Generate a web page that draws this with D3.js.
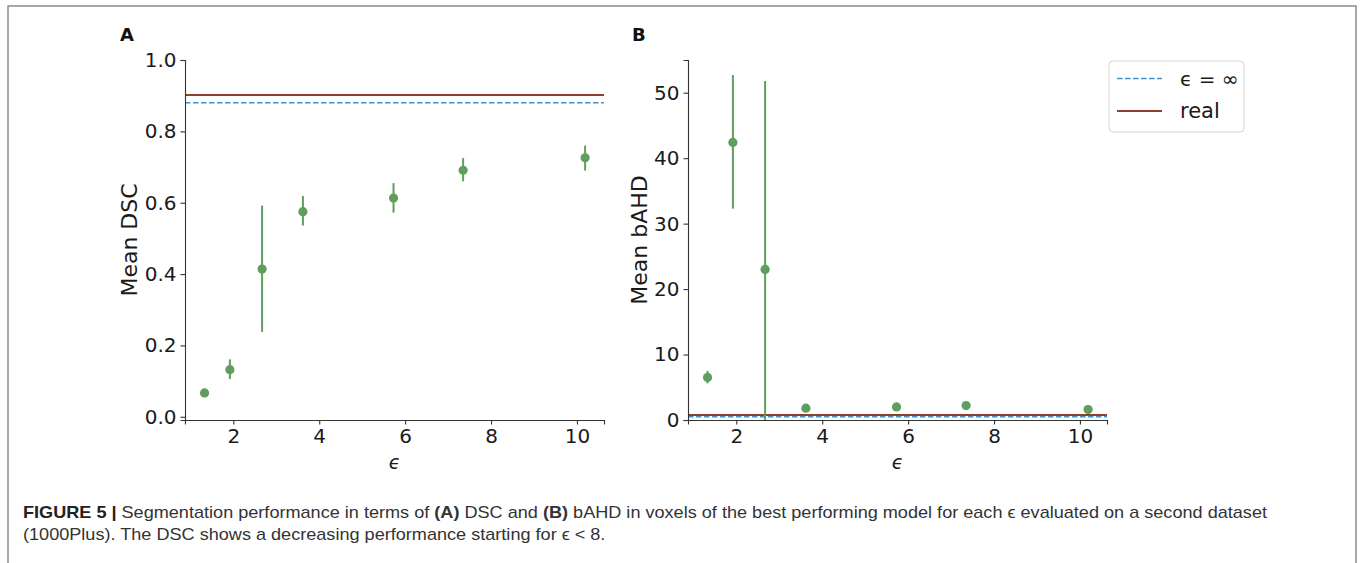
<!DOCTYPE html>
<html>
<head>
<meta charset="utf-8">
<script src="https://cdn.jsdelivr.net/npm/d3@7"></script>
<style>
  html, body { margin: 0; padding: 0; background: #fff; }
  svg { display: block; }
</style>
</head>
<body>
<div id="chart"></div>
<script>
// values
const epsilons = [1.33, 1.92, 2.67, 3.62, 5.73, 7.35, 10.19];
const dscMean = [0.067, 0.132, 0.414, 0.575, 0.613, 0.691, 0.726];
const dscLow  = [0.061, 0.106, 0.238, 0.536, 0.572, 0.660, 0.690];
const dscHigh = [0.073, 0.161, 0.592, 0.619, 0.655, 0.725, 0.760];
const bahdMean = [6.5, 42.4, 23.0, 1.8, 2.0, 2.2, 1.6];
const bahdLow  = [5.6, 32.3, -5.8, 1.5, 1.7, 1.6, 1.0];
const bahdHigh = [7.5, 52.7, 51.8, 2.1, 2.3, 2.8, 2.2];
const dscRef = { inf: 0.880, real: 0.902 };
const bahdRef = { inf: 0.5, real: 0.75 };
const xTicks = [2, 4, 6, 8, 10];
const dscTicks = [0.0, 0.2, 0.4, 0.6, 0.8, 1.0];
const bahdTicks = [0, 10, 20, 30, 40, 50];
const legendLabels = ["\u03F5 = \u221E", "real"];

const W = 1360, H = 563;
const green = "#5f9e5c", brown = "#8e3f2d", blue = "#3d95d3";
const font = "DejaVu Sans, sans-serif";

const svg = d3.select("#chart").append("svg")
  .attr("width", W).attr("height", H);

// figure frame
svg.append("rect")
  .attr("x", 8).attr("y", 6).attr("width", 1348).attr("height", 600)
  .attr("fill", "none").attr("stroke", "#7a7a7a").attr("stroke-width", 1.3);

function panel(opts) {
  const x = d3.scaleLinear().domain([0.875, 10.63]).range(opts.xr);
  const y = d3.scaleLinear().domain(opts.yd).range([420, 60]);
  const g = svg.append("g");

  const clipId = "clip-" + opts.letter;
  g.append("clipPath").attr("id", clipId).append("rect")
    .attr("x", opts.xr[0]).attr("y", 60)
    .attr("width", opts.xr[1] - opts.xr[0]).attr("height", 360);

  const plot = g.append("g").attr("clip-path", `url(#${clipId})`);

  // reference lines
  plot.append("line")
    .attr("x1", opts.xr[0]).attr("x2", opts.xr[1])
    .attr("y1", y(opts.ref.inf)).attr("y2", y(opts.ref.inf))
    .attr("stroke", blue).attr("stroke-width", 1.6)
    .attr("stroke-dasharray", "5.5,2.5");
  plot.append("line")
    .attr("x1", opts.xr[0]).attr("x2", opts.xr[1])
    .attr("y1", y(opts.ref.real)).attr("y2", y(opts.ref.real))
    .attr("stroke", brown).attr("stroke-width", 2);

  // error bars
  plot.selectAll(".err").data(epsilons).enter().append("line")
    .attr("x1", d => x(d)).attr("x2", d => x(d))
    .attr("y1", (d, i) => y(opts.low[i])).attr("y2", (d, i) => y(opts.high[i]))
    .attr("stroke", green).attr("stroke-width", 2);
  plot.selectAll(".dot").data(epsilons).enter().append("circle")
    .attr("cx", d => x(d)).attr("cy", (d, i) => y(opts.mean[i]))
    .attr("r", 4.6).attr("fill", green);

  // axes
  const ax = g.append("g").attr("transform", "translate(0,420)")
    .call(d3.axisBottom(x).tickValues(xTicks).tickSizeOuter(0).tickSize(4.5).tickPadding(4));
  const ay = g.append("g").attr("transform", `translate(${opts.xr[0]},0)`)
    .call(d3.axisLeft(y).tickValues(opts.yTicks).tickSizeOuter(0).tickSize(4.5).tickPadding(4)
      .tickFormat(opts.fmt));
  [ax, ay].forEach(a => {
    a.selectAll("path, line").attr("stroke", "#333").attr("stroke-width", 1.1);
    a.selectAll("text").attr("font-family", font).attr("font-size", 20).attr("fill", "#1a1a1a");
  });

  // labels
  g.append("text")
    .attr("transform", `translate(${opts.ylabX},240) rotate(-90)`)
    .attr("text-anchor", "middle").attr("dominant-baseline", "central")
    .attr("font-family", font).attr("font-size", 22).attr("fill", "#1a1a1a")
    .text(opts.ylabel);
  g.append("text")
    .attr("x", (opts.xr[0] + opts.xr[1]) / 2).attr("y", 469)
    .attr("text-anchor", "middle")
    .attr("font-family", font).attr("font-size", 19).attr("font-style", "italic").attr("fill", "#1a1a1a")
    .text("\u03F5");
  g.append("text")
    .attr("x", opts.letterX).attr("y", 41)
    .attr("font-family", font).attr("font-size", 18).attr("font-weight", "bold").attr("fill", "#111")
    .text(opts.letter);
  return g;
}

panel({
  letter: "A", letterX: 120, xr: [185, 604], yd: [-0.009, 1.0],
  yTicks: dscTicks, fmt: d3.format(".1f"),
  mean: dscMean, low: dscLow, high: dscHigh, ref: dscRef,
  ylabel: "Mean DSC", ylabX: 129
});
panel({
  letter: "B", letterX: 632, xr: [688, 1107], yd: [0, 55],
  yTicks: bahdTicks, fmt: d3.format("d"),
  mean: bahdMean, low: bahdLow, high: bahdHigh, ref: bahdRef,
  ylabel: "Mean bAHD", ylabX: 639
});

// legend
const lg = svg.append("g");
lg.append("rect")
  .attr("x", 1109).attr("y", 61).attr("width", 135).attr("height", 71).attr("rx", 4)
  .attr("fill", "#fff").attr("stroke", "#d4d4d4").attr("stroke-width", 1);
const items = [
  { label: legendLabels[0], color: blue, dash: "5.5,2.5", w: 1.6 },
  { label: legendLabels[1], color: brown, dash: null, w: 2 }
];
items.forEach((it, i) => {
  const yy = 78.5 + i * 32.5;
  lg.append("line")
    .attr("x1", 1117).attr("x2", 1162).attr("y1", yy).attr("y2", yy)
    .attr("stroke", it.color).attr("stroke-width", it.w)
    .attr("stroke-dasharray", it.dash);
  lg.append("text")
    .attr("x", 1180).attr("y", yy).attr("dominant-baseline", "central")
    .attr("font-family", font).attr("font-size", i === 0 ? 20 : 21).attr("fill", "#1a1a1a")
    .text(it.label);
});

// caption
const cap = svg.append("g").attr("font-family", "Liberation Sans, Arial, sans-serif")
  .attr("font-size", 17).attr("fill", "#333");
const l1 = cap.append("text").attr("x", 23).attr("y", 518);
l1.append("tspan").attr("font-weight", "bold").attr("fill", "#222").text("FIGURE 5 | ");
l1.append("tspan").text("Segmentation performance in terms of ");
l1.append("tspan").attr("font-weight", "bold").text("(A)");
l1.append("tspan").text(" DSC and ");
l1.append("tspan").attr("font-weight", "bold").text("(B)");
l1.append("tspan").text(" bAHD in voxels of the best performing model for each \u03F5 evaluated on a second dataset");
const l2 = cap.append("text").attr("x", 23).attr("y", 540)
  .text("(1000Plus). The DSC shows a decreasing performance starting for \u03F5 < 8.");
// squeeze both lines by the same factor so line 1 ends where the original does
const squeeze = 1244 / l1.node().getComputedTextLength();
l1.attr("textLength", 1244).attr("lengthAdjust", "spacingAndGlyphs");
l2.attr("textLength", l2.node().getComputedTextLength() * squeeze).attr("lengthAdjust", "spacingAndGlyphs");
</script>
</body>
</html>
